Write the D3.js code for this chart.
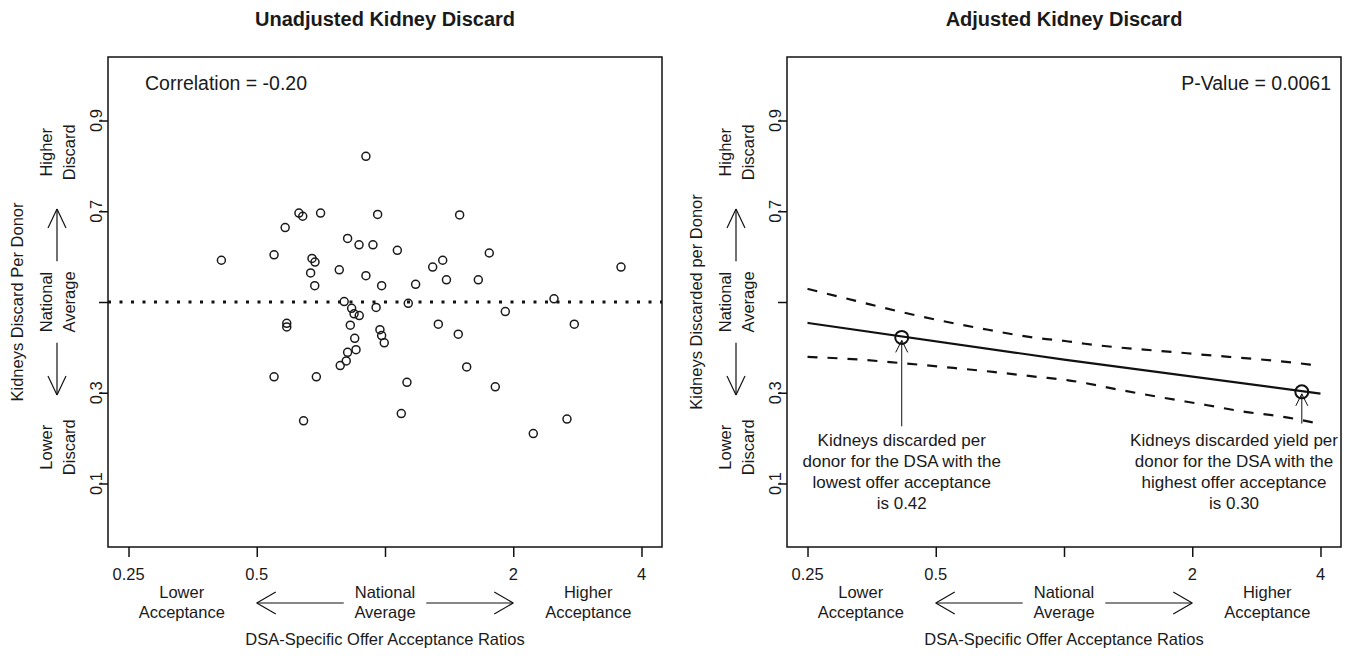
<!DOCTYPE html>
<html><head><meta charset="utf-8">
<script src="https://cdn.jsdelivr.net/npm/d3@7"></script>
<style>
body{margin:0;background:#fff}
text{font-family:"Liberation Sans",Arial,sans-serif;fill:#1a1a1a}
</style>
</head><body>
<svg id="c" width="1358" height="658"></svg>
<script>
// ---------- data ----------
const xTicks = [0.25, 0.5, 1, 2, 4];
const xTickLabels = ["0.25", "0.5", "", "2", "4"];
const yTicks = [0.1, 0.3, 0.5, 0.7, 0.9];
const yTickLabels = ["0.1", "0.3", "", "0.7", "0.9"];

// Unadjusted: DSA offer acceptance ratio vs kidneys discarded per donor
const acceptRatio = [0.902,0.628,0.641,0.706,0.961,0.583,0.817,0.869,0.937,1.069,
  0.413,0.549,0.674,0.685,0.669,0.781,0.902,0.684,0.982,1.180,
  1.294,1.366,1.394,1.497,1.757,1.656,3.581,2.493,1.916,1.334,
  2.782,1.486,1.555,1.815,2.674,2.229,0.802,0.835,0.846,0.870,
  0.953,1.134,0.588,0.588,0.829,0.973,0.982,0.996,0.849,0.855,
  0.817,0.811,0.785,0.549,0.690,1.126,0.644,1.092];
const discardPerDonor = [0.821,0.696,0.689,0.696,0.693,0.664,0.640,0.626,0.626,0.614,
  0.592,0.604,0.596,0.588,0.564,0.571,0.558,0.536,0.536,0.539,
  0.577,0.592,0.549,0.692,0.608,0.549,0.577,0.507,0.479,0.451,
  0.451,0.429,0.357,0.313,0.242,0.210,0.501,0.486,0.474,0.470,
  0.488,0.497,0.453,0.445,0.449,0.439,0.426,0.410,0.420,0.395,
  0.389,0.370,0.360,0.335,0.335,0.323,0.238,0.254];
const nationalAverage = 0.5;

// Adjusted: fitted line and confidence band
const fitX = [0.25, 1, 4];
const fitY = [0.454, 0.373, 0.298];
const upperX = [0.25, 0.323, 0.452, 0.628, 0.874, 1.006, 1.12, 1.944, 3.78, 4];
const upperY = [0.529, 0.503, 0.470, 0.443, 0.420, 0.414, 0.408, 0.387, 0.362, 0.359];
const lowerX = [0.25, 0.327, 0.408, 0.531, 0.681, 0.865, 1.016, 1.339, 1.662, 2.154, 2.659, 3.267, 4];
const lowerY = [0.379, 0.3735, 0.366, 0.356, 0.346, 0.335, 0.328, 0.307, 0.291, 0.273, 0.258, 0.247, 0.231];
const highlightX = [0.416, 3.616];
const highlightY = [0.422, 0.302];
const noteLow = ["Kidneys discarded per", "donor for the DSA with the", "lowest offer acceptance", "is 0.42"];
const noteHigh = ["Kidneys discarded yield per", "donor for the DSA with the", "highest offer acceptance", "is 0.30"];

const titles = ["Unadjusted Kidney Discard", "Adjusted Kidney Discard"];
const yTitles = ["Kidneys Discard Per Donor", "Kidneys Discarded per Donor"];
const xTitle = "DSA-Specific Offer Acceptance Ratios";

// ---------- drawing ----------
const svg = d3.select("#c");
const FS = 16.5;
const pad = Math.pow(2, 0.16);
const yScale = d3.scaleLinear().domain([-0.04, 1.04]).range([547, 57]);

function arrow(g, x1, y1, x2, y2, len, half, sw) {
  g.append("line").attr("x1", x1).attr("y1", y1).attr("x2", x2).attr("y2", y2)
    .attr("stroke", "#111").attr("stroke-width", sw);
  const a = Math.atan2(y2 - y1, x2 - x1);
  const ang = Math.atan2(half, len);
  const L = Math.hypot(len, half);
  [a + Math.PI - ang, a + Math.PI + ang].forEach(t => {
    g.append("line").attr("x1", x2).attr("y1", y2)
      .attr("x2", x2 + L * Math.cos(t)).attr("y2", y2 + L * Math.sin(t))
      .attr("stroke", "#111").attr("stroke-width", sw);
  });
}

function rtext(g, x, y, s, size, weight) {
  g.append("text").attr("transform", `translate(${x},${y}) rotate(-90)`)
    .attr("text-anchor", "middle").attr("font-size", size || FS)
    .attr("font-weight", weight || "normal").text(s);
}
function htext(g, x, y, s, size, anchor, weight) {
  g.append("text").attr("x", x).attr("y", y)
    .attr("text-anchor", anchor || "middle").attr("font-size", size || FS)
    .attr("font-weight", weight || "normal").text(s);
}

function panel(i, left, right) {
  const g = svg.append("g");
  const x = d3.scaleLog().base(2).domain([0.25 / pad, 4 * pad]).range([left, right]);
  const y = yScale;
  const [top, bot] = [57, 547];

  // title
  htext(g, (left + right) / 2, 26, titles[i], 20, "middle", "bold");

  // x axis
  const xa = d3.axisBottom(x).tickValues(xTicks).tickSize(10).tickFormat("");
  g.append("g").attr("transform", `translate(0,${bot})`).call(xa)
    .call(s => s.select(".domain").remove())
    .call(s => s.selectAll("line").attr("stroke", "#111").attr("stroke-width", 1.5));
  xTicks.forEach((t, k) => { if (xTickLabels[k]) htext(g, x(t), 580, xTickLabels[k]); });
  htext(g, x(1 / 3), 598, "Lower"); htext(g, x(1 / 3), 618, "Acceptance");
  htext(g, x(1), 598, "National"); htext(g, x(1), 618, "Average");
  htext(g, x(3), 598, "Higher"); htext(g, x(3), 618, "Acceptance");
  arrow(g, x(0.8), 603, x(0.5), 603, 19, 11, 1.2);
  arrow(g, x(1.25), 603, x(2), 603, 19, 11, 1.2);
  htext(g, (left + right) / 2, 645, xTitle);

  // y axis
  const ya = d3.axisLeft(y).tickValues(yTicks).tickSize(9).tickFormat("");
  g.append("g").attr("transform", `translate(${left},0)`).call(ya)
    .call(s => s.select(".domain").remove())
    .call(s => s.selectAll("line").attr("stroke", "#111").attr("stroke-width", 1.5));
  yTicks.forEach((t, k) => { if (yTickLabels[k]) rtext(g, left - 6, y(t), yTickLabels[k]); });
  rtext(g, left - 56, y(0.83), "Higher"); rtext(g, left - 33, y(0.83), "Discard");
  rtext(g, left - 56, y(0.5), "National"); rtext(g, left - 33, y(0.5), "Average");
  rtext(g, left - 56, y(0.18), "Lower"); rtext(g, left - 33, y(0.18), "Discard");
  arrow(g, left - 51, y(0.59), left - 51, y(0.705), 19, 9, 1.2);
  arrow(g, left - 51, y(0.41), left - 51, y(0.295), 19, 9, 1.2);
  rtext(g, left - 85, (top + bot) / 2, yTitles[i]);

  // frame
  g.append("rect").attr("x", left).attr("y", top).attr("width", right - left)
    .attr("height", bot - top).attr("fill", "none").attr("stroke", "#111").attr("stroke-width", 1.5);
  return { g, x, y };
}

// Left panel
{
  const { g, x, y } = panel(0, 108, 662);
  g.append("line").attr("x1", 108).attr("x2", 662)
    .attr("y1", y(nationalAverage)).attr("y2", y(nationalAverage))
    .attr("stroke", "#111").attr("stroke-width", 3).attr("stroke-dasharray", "3,8.5");
  g.selectAll("circle.pt").data(acceptRatio).enter().append("circle")
    .attr("class", "pt")
    .attr("cx", d => x(d)).attr("cy", (d, k) => y(discardPerDonor[k]))
    .attr("r", 4).attr("fill", "none").attr("stroke", "#1a1a1a").attr("stroke-width", 1.5);
  htext(g, 145, 90, "Correlation = -0.20", 19.5, "start");
}

// Right panel
{
  const { g, x, y } = panel(1, 787, 1341);
  const line = (xs, ys) => d3.line().x((d, k) => x(xs[k])).y((d, k) => y(ys[k]))
    .curve(d3.curveMonotoneX)(xs);
  g.append("path").attr("d", line(upperX, upperY)).attr("fill", "none")
    .attr("stroke", "#111").attr("stroke-width", 2.2).attr("stroke-dasharray", "10,10");
  g.append("path").attr("d", line(lowerX, lowerY)).attr("fill", "none")
    .attr("stroke", "#111").attr("stroke-width", 2.2).attr("stroke-dasharray", "10,10");
  g.append("path").attr("d", line(fitX, fitY)).attr("fill", "none")
    .attr("stroke", "#111").attr("stroke-width", 2.2);
  highlightX.forEach((hx, k) => {
    g.append("circle").attr("cx", x(hx)).attr("cy", y(highlightY[k])).attr("r", 6.5)
      .attr("fill", "none").attr("stroke", "#111").attr("stroke-width", 2);
  });
  arrow(g, x(highlightX[0]), y(0.226), x(highlightX[0]), y(highlightY[0]) + 3, 12, 6, 1);
  arrow(g, x(highlightX[1]), y(0.232), x(highlightX[1]), y(highlightY[1]) + 2, 12, 6, 1);
  noteLow.forEach((s, k) => htext(g, x(highlightX[0]), y(0.195) + 6 + k * 20.8, s, 17));
  noteHigh.forEach((s, k) => htext(g, x(2.507), y(0.195) + 6 + k * 20.8, s, 17));
  htext(g, 1331, 90, "P-Value = 0.0061", 19.5, "end");
}
</script>
</body></html>
